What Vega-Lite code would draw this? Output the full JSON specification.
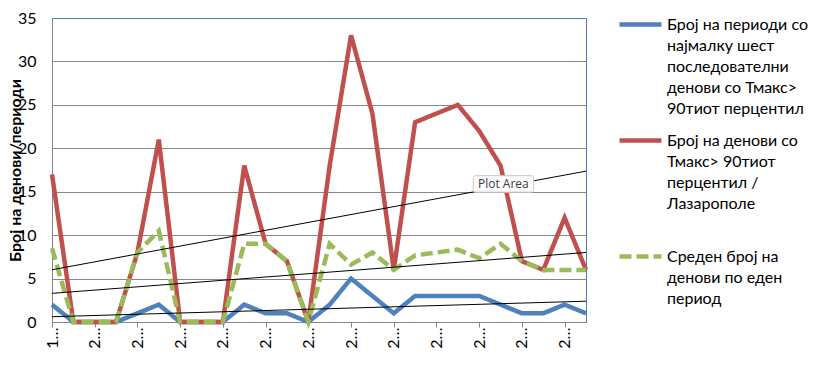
{
  "$schema": "https://vega.github.io/schema/vega-lite/v6.json",
  "width": 534,
  "height": 304,
  "autosize": {"type": "none"},
  "padding": {"left": 52, "top": 18, "right": 236, "bottom": 43},
  "background": "white",
  "config": {
    "view": {"stroke": "#4A7EBB", "strokeWidth": 1},
    "font": "Lato"
  },
  "datasets": {
    "main": [
      {"i": 0, "periods": 2, "days": 17, "avg": 8.5},
      {"i": 1, "periods": 0, "days": 0, "avg": 0},
      {"i": 2, "periods": 0, "days": 0, "avg": 0},
      {"i": 3, "periods": 0, "days": 0, "avg": 0},
      {"i": 4, "periods": 1, "days": 8, "avg": 8},
      {"i": 5, "periods": 2, "days": 21, "avg": 10.5},
      {"i": 6, "periods": 0, "days": 0, "avg": 0},
      {"i": 7, "periods": 0, "days": 0, "avg": 0},
      {"i": 8, "periods": 0, "days": 0, "avg": 0},
      {"i": 9, "periods": 2, "days": 18, "avg": 9},
      {"i": 10, "periods": 1, "days": 9, "avg": 9},
      {"i": 11, "periods": 1, "days": 7, "avg": 7},
      {"i": 12, "periods": 0, "days": 0, "avg": 0},
      {"i": 13, "periods": 2, "days": 18, "avg": 9},
      {"i": 14, "periods": 5, "days": 33, "avg": 6.6},
      {"i": 15, "periods": 3, "days": 24, "avg": 8},
      {"i": 16, "periods": 1, "days": 6, "avg": 6},
      {"i": 17, "periods": 3, "days": 23, "avg": 7.67},
      {"i": 18, "periods": 3, "days": 24, "avg": 8},
      {"i": 19, "periods": 3, "days": 25, "avg": 8.33},
      {"i": 20, "periods": 3, "days": 22, "avg": 7.33},
      {"i": 21, "periods": 2, "days": 18, "avg": 9},
      {"i": 22, "periods": 1, "days": 7, "avg": 7},
      {"i": 23, "periods": 1, "days": 6, "avg": 6},
      {"i": 24, "periods": 2, "days": 12, "avg": 6},
      {"i": 25, "periods": 1, "days": 6, "avg": 6}
    ],
    "note": [{"note": "Plot Area"}]
  },
  "layer": [
    {
      "data": {"name": "main"},
      "transform": [{"fold": ["periods", "days", "avg"], "as": ["series", "value"]}],
      "mark": {"type": "line", "strokeWidth": 4.5},
      "encoding": {
        "x": {
          "field": "i",
          "type": "quantitative",
          "scale": {"domain": [0, 25], "nice": false, "zero": false},
          "axis": {
            "title": null,
            "values": [0,1,2,3,4,5,6,7,8,9,10,11,12,13,14,15,16,17,18,19,20,21,22,23,24,25],
            "labelExpr": "datum.value == 0 ? '1…' : (datum.value % 2 == 0 ? '2…' : '')",
            "labelAngle": -90,
            "labelAlign": "right",
            "labelBaseline": "middle",
            "labelFontSize": 16,
            "labelColor": "black",
            "labelPadding": 0,
            "labelOverlap": false,
            "labelFlush": false,
            "grid": false,
            "domainColor": "#868686",
            "tickColor": "#868686",
            "tickSize": 5
          }
        },
        "y": {
          "field": "value",
          "type": "quantitative",
          "scale": {"domain": [0, 35], "nice": false},
          "axis": {
            "title": "Број на денови/периоди",
            "titleFontSize": 16,
            "titleFontWeight": "bold",
            "titleColor": "black",
            "titleAngle": -90,
            "titleX": -37,
            "titleY": 152,
            "titleAlign": "center",
            "titleBaseline": "middle",
            "values": [0, 5, 10, 15, 20, 25, 30, 35],
            "labelFontSize": 16,
            "labelColor": "black",
            "labelPadding": 16,
            "ticks": false,
            "tickSize": 0,
            "domainColor": "#868686",
            "gridColor": {"condition": {"test": "datum.value == 35", "value": "#4A7EBB"}, "value": "#868686"},
            "gridWidth": 1
          }
        },
        "color": {
          "field": "series",
          "type": "nominal",
          "scale": {"domain": ["periods", "days", "avg"], "range": ["#4F81BD", "#C0504D", "#9BBB59"]},
          "legend": {
            "orient": "none",
            "direction": "vertical",
            "legendX": 565,
            "legendY": -17,
            "title": null,
            "padding": 0,
            "symbolType": "stroke",
            "symbolSize": 1764,
            "symbolStrokeWidth": 4.5,
            "labelFontSize": 16,
            "labelFont": "Lato",
            "labelColor": "black",
            "labelLimit": 300,
            "labelOffset": 3,
            "gridAlign": "all",
            "rowPadding": 0,
            "encode": {"labels": {"update": {"lineHeight": {"value": 21}}}},
            "labelExpr": "datum.value == 'periods' ? ['Број на периоди со', 'најмалку шест', 'последователни', 'денови  со Тмакс>', '90тиот перцентил'] : (datum.value == 'days' ? ['Број на денови со', 'Тмакс> 90тиот', 'перцентил /', 'Лазарополе'] : ['Среден број на', 'денови по еден', 'период'])"
          }
        },
        "strokeDash": {
          "field": "series",
          "type": "nominal",
          "scale": {"domain": ["periods", "days", "avg"], "range": [[1, 0], [1, 0], [12, 5]]}
        }
      }
    },
    {
      "data": {"name": "main"},
      "transform": [
        {"fold": ["periods", "days", "avg"], "as": ["series", "value"]},
        {"regression": "value", "on": "i", "groupby": ["series"], "extent": [0, 25]}
      ],
      "mark": {"type": "line", "color": "black", "strokeWidth": 1},
      "encoding": {
        "x": {"field": "i", "type": "quantitative"},
        "y": {"field": "value", "type": "quantitative"},
        "detail": {"field": "series", "type": "nominal"}
      }
    },
    {
      "data": {"name": "note"},
      "mark": {"type": "rect", "fill": "#fbfbfb", "stroke": "#c8c8c8", "strokeWidth": 1, "cornerRadius": 2},
      "encoding": {
        "x": {"datum": 19.72, "type": "quantitative"},
        "x2": {"datum": 22.55},
        "y": {"datum": 16.85, "type": "quantitative"},
        "y2": {"datum": 14.95}
      }
    },
    {
      "data": {"name": "note"},
      "mark": {"type": "text", "font": "Open Sans", "fontSize": 12, "color": "#3b3b3b", "align": "center", "baseline": "middle"},
      "encoding": {
        "x": {"datum": 21.13, "type": "quantitative"},
        "y": {"datum": 15.9, "type": "quantitative"},
        "text": {"field": "note"}
      }
    }
  ]
}
